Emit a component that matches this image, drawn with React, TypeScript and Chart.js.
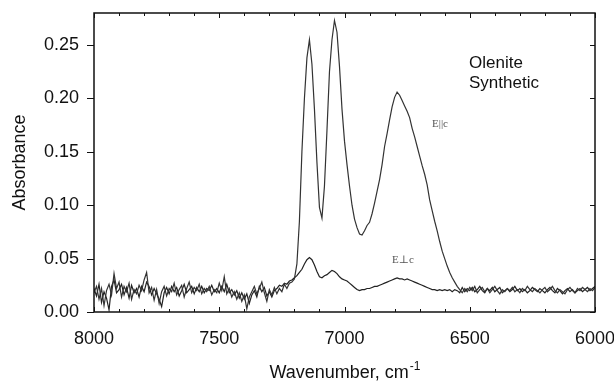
import React, { useEffect, useRef } from "react";
import { Chart, registerables } from "chart.js";

Chart.register(...registerables);

// Wavenumber grid, cm-1 (8000 -> 6000, every 10 cm-1)
const wavenumbers = [
  8000, 7990, 7980, 7970, 7960, 7950, 7940, 7930, 7920, 7910,
  7900, 7890, 7880, 7870, 7860, 7850, 7840, 7830, 7820, 7810,
  7800, 7790, 7780, 7770, 7760, 7750, 7740, 7730, 7720, 7710,
  7700, 7690, 7680, 7670, 7660, 7650, 7640, 7630, 7620, 7610,
  7600, 7590, 7580, 7570, 7560, 7550, 7540, 7530, 7520, 7510,
  7500, 7490, 7480, 7470, 7460, 7450, 7440, 7430, 7420, 7410,
  7400, 7390, 7380, 7370, 7360, 7350, 7340, 7330, 7320, 7310,
  7300, 7290, 7280, 7270, 7260, 7250, 7240, 7230, 7220, 7210,
  7200, 7190, 7180, 7170, 7160, 7150, 7140, 7130, 7120, 7110,
  7100, 7090, 7080, 7070, 7060, 7050, 7040, 7030, 7020, 7010,
  7000, 6990, 6980, 6970, 6960, 6950, 6940, 6930, 6920, 6910,
  6900, 6890, 6880, 6870, 6860, 6850, 6840, 6830, 6820, 6810,
  6800, 6790, 6780, 6770, 6760, 6750, 6740, 6730, 6720, 6710,
  6700, 6690, 6680, 6670, 6660, 6650, 6640, 6630, 6620, 6610,
  6600, 6590, 6580, 6570, 6560, 6550, 6540, 6530, 6520, 6510,
  6500, 6490, 6480, 6470, 6460, 6450, 6440, 6430, 6420, 6410,
  6400, 6390, 6380, 6370, 6360, 6350, 6340, 6330, 6320, 6310,
  6300, 6290, 6280, 6270, 6260, 6250, 6240, 6230, 6220, 6210,
  6200, 6190, 6180, 6170, 6160, 6150, 6140, 6130, 6120, 6110,
  6100, 6090, 6080, 6070, 6060, 6050, 6040, 6030, 6020, 6010,
  6000,
];

// Absorbance, E || c
const absParallel = [
  0.018, 0.024, 0.012, 0.022, 0.006, 0.020, 0.026, 0.016, 0.036, 0.022,
  0.028, 0.014, 0.024, 0.019, 0.027, 0.012, 0.021, 0.017, 0.025, 0.020,
  0.030, 0.037, 0.018, 0.023, 0.011, 0.021, 0.008, 0.019, 0.024, 0.015,
  0.022, 0.019, 0.027, 0.016, 0.021, 0.025, 0.014, 0.022, 0.028, 0.018,
  0.023, 0.020, 0.026, 0.017, 0.022, 0.019, 0.024, 0.016, 0.021, 0.018,
  0.027, 0.020, 0.033, 0.017, 0.022, 0.014, 0.019, 0.012, 0.018, 0.010,
  0.016, 0.003, 0.014, 0.019, 0.024, 0.017, 0.022, 0.028, 0.018, 0.010,
  0.021, 0.016, 0.023, 0.017, 0.022, 0.019, 0.026, 0.022, 0.027, 0.028,
  0.031, 0.045, 0.085, 0.150, 0.200, 0.238, 0.255, 0.232, 0.190, 0.140,
  0.098, 0.088, 0.118, 0.170, 0.225, 0.255, 0.273, 0.262, 0.230, 0.190,
  0.160, 0.138, 0.118, 0.100, 0.087, 0.079, 0.073, 0.072, 0.076, 0.081,
  0.084, 0.092, 0.102, 0.113, 0.124, 0.138, 0.155, 0.167, 0.180, 0.192,
  0.201, 0.206, 0.203, 0.198, 0.193, 0.188, 0.182, 0.172, 0.164, 0.155,
  0.146, 0.137, 0.129, 0.119, 0.105, 0.095, 0.085, 0.076, 0.066, 0.057,
  0.050, 0.043, 0.037, 0.032, 0.028, 0.024, 0.021, 0.018, 0.022, 0.019,
  0.023, 0.020, 0.024, 0.018, 0.021, 0.023, 0.019, 0.022, 0.018, 0.021,
  0.024, 0.020, 0.017, 0.021, 0.019, 0.022, 0.020, 0.023, 0.019, 0.021,
  0.018, 0.022, 0.020, 0.024, 0.021, 0.019, 0.022, 0.020, 0.018, 0.021,
  0.023, 0.019, 0.021, 0.024, 0.020, 0.018, 0.021, 0.019, 0.017, 0.021,
  0.023, 0.020, 0.018, 0.022, 0.020, 0.023, 0.021, 0.019, 0.022, 0.020,
  0.023,
];

// Absorbance, E ⊥ c
const absPerp = [
  0.022, 0.015, 0.026, 0.009, 0.019, 0.013, 0.002, 0.024, 0.030, 0.018,
  0.021, 0.026, 0.016, 0.023, 0.013, 0.025, 0.018, 0.022, 0.014, 0.024,
  0.019, 0.028, 0.024, 0.016, 0.022, 0.017, 0.012, 0.005, 0.018, 0.023,
  0.017, 0.024, 0.019, 0.023, 0.015, 0.020, 0.026, 0.018, 0.021, 0.024,
  0.017, 0.023, 0.019, 0.024, 0.018, 0.022, 0.020, 0.025, 0.019, 0.022,
  0.018, 0.024, 0.019, 0.026, 0.018, 0.021, 0.016, 0.020, 0.013, 0.018,
  0.012, 0.017, 0.008, 0.016, 0.020, 0.014, 0.024, 0.019, 0.023, 0.015,
  0.019, 0.014, 0.020, 0.022, 0.025, 0.024, 0.027, 0.026, 0.029, 0.030,
  0.032, 0.034, 0.037, 0.040, 0.045, 0.049, 0.051, 0.049, 0.044, 0.038,
  0.033, 0.032, 0.034, 0.035, 0.037, 0.039, 0.038, 0.036, 0.033, 0.031,
  0.030, 0.029, 0.027, 0.025, 0.023, 0.021, 0.020, 0.021, 0.021, 0.022,
  0.022, 0.023, 0.024, 0.024, 0.025, 0.026, 0.027, 0.028, 0.029, 0.030,
  0.031, 0.032, 0.031, 0.031, 0.030, 0.031, 0.030, 0.029, 0.028, 0.027,
  0.026, 0.025, 0.024, 0.023, 0.022, 0.021, 0.021, 0.020, 0.021, 0.020,
  0.021, 0.020, 0.021, 0.019, 0.021, 0.020, 0.018, 0.023, 0.019, 0.022,
  0.020, 0.023, 0.019, 0.021, 0.024, 0.020, 0.018, 0.022, 0.020, 0.023,
  0.019, 0.021, 0.023, 0.018, 0.020, 0.022, 0.019, 0.021, 0.024, 0.020,
  0.022, 0.019, 0.021, 0.018, 0.020, 0.023, 0.021, 0.019, 0.022, 0.020,
  0.018, 0.021, 0.023, 0.020, 0.018, 0.022, 0.020, 0.017, 0.020, 0.022,
  0.019, 0.021, 0.018, 0.020, 0.022, 0.019, 0.021, 0.023, 0.020, 0.022,
  0.024,
];

const xTickValues = [8000, 7500, 7000, 6500, 6000];
const xMinorTickValues = [
  7900, 7800, 7700, 7600, 7400, 7300, 7200, 7100, 6900, 6800, 6700, 6600,
  6400, 6300, 6200, 6100,
];
const yTickValues = [0, 0.05, 0.1, 0.15, 0.2, 0.25];

const xTitle = "Wavenumber, cm";
const xTitleSup = "-1";
const yTitle = "Absorbance";
const sampleLines = ["Olenite", "Synthetic"];
const labelParallel = "E||c";
const labelPerp = "E\u22A5c";

const FONT = "'Liberation Sans', Arial, sans-serif";
const SERIF = "'Liberation Serif', 'DejaVu Serif', serif";

const decorPlugin = {
  id: "decor",
  afterDraw(chart: any) {
    const { ctx, chartArea: a, scales } = chart;
    const x = scales.x;
    const y = scales.y;
    ctx.save();
    // frame
    ctx.strokeStyle = "#111";
    ctx.lineWidth = 1.5;
    ctx.strokeRect(a.left, a.top, a.right - a.left, a.bottom - a.top);
    ctx.lineWidth = 1;
    ctx.beginPath();
    const allX = [...xTickValues.map((v) => [v, 5]), ...xMinorTickValues.map((v) => [v, 3])];
    for (const [v, len] of allX) {
      const px = Math.round(x.getPixelForValue(v)) + 0.5;
      ctx.moveTo(px, a.bottom);
      ctx.lineTo(px, a.bottom - len);
      ctx.moveTo(px, a.top);
      ctx.lineTo(px, a.top + len);
    }
    for (const v of yTickValues) {
      const py = Math.round(y.getPixelForValue(v)) + 0.5;
      ctx.moveTo(a.left, py);
      ctx.lineTo(a.left - 7, py);
      ctx.moveTo(a.right, py);
      ctx.lineTo(a.right - 5, py);
    }
    ctx.stroke();

    // axis titles
    ctx.fillStyle = "#111";
    ctx.textBaseline = "alphabetic";
    ctx.font = `18px ${FONT}`;
    const mainW = ctx.measureText(xTitle).width;
    ctx.font = `12px ${FONT}`;
    const supW = ctx.measureText(xTitleSup).width;
    const cx = (a.left + a.right) / 2;
    const startX = cx - (mainW + supW) / 2;
    ctx.textAlign = "left";
    ctx.font = `18px ${FONT}`;
    ctx.fillText(xTitle, startX, 378);
    ctx.font = `12px ${FONT}`;
    ctx.fillText(xTitleSup, startX + mainW + 1, 370);

    ctx.save();
    ctx.translate(25, (a.top + a.bottom) / 2);
    ctx.rotate(-Math.PI / 2);
    ctx.textAlign = "center";
    ctx.font = `18px ${FONT}`;
    ctx.fillText(yTitle, 0, 0);
    ctx.restore();

    // sample annotation
    ctx.font = `17px ${FONT}`;
    ctx.textAlign = "left";
    ctx.fillText(sampleLines[0], 469, 68);
    ctx.fillText(sampleLines[1], 469, 88);

    // curve labels
    ctx.fillStyle = "#555";
    ctx.font = `11px ${SERIF}`;
    ctx.fillText(labelParallel, 432, 127);
    ctx.fillText(labelPerp, 392, 263);
    ctx.restore();
  },
};

export default function App() {
  const ref = useRef<HTMLCanvasElement | null>(null);

  useEffect(() => {
    document.body.style.margin = "0";
    const canvas = ref.current;
    if (!canvas) return;
    const toPoints = (ys: number[]) => wavenumbers.map((w, i) => ({ x: w, y: ys[i] }));
    const chart = new Chart(canvas, {
      type: "line",
      data: {
        datasets: [
          {
            label: labelParallel,
            data: toPoints(absParallel),
            borderColor: "#333",
            borderWidth: 1.2,
            pointRadius: 0,
            tension: 0,
            fill: false,
          },
          {
            label: labelPerp,
            data: toPoints(absPerp),
            borderColor: "#222",
            borderWidth: 1.2,
            pointRadius: 0,
            tension: 0,
            fill: false,
          },
        ],
      },
      options: {
        animation: false,
        responsive: false,
        devicePixelRatio: 1,
        layout: { padding: { left: 0, right: 19, top: 13, bottom: 0 } },
        plugins: {
          legend: { display: false },
          tooltip: { enabled: false },
          title: { display: false },
        },
        scales: {
          x: {
            type: "linear",
            reverse: true,
            min: 6000,
            max: 8000,
            grid: { display: false, drawTicks: false },
            border: { display: false },
            afterFit: (s: any) => {
              s.height = 73;
              s.paddingLeft = 0;
              s.paddingRight = 0;
            },
            afterBuildTicks: (s: any) => {
              s.ticks = xTickValues.map((v) => ({ value: v }));
            },
            ticks: {
              padding: 16,
              color: "#111",
              font: { size: 18, family: FONT },
              maxRotation: 0,
              autoSkip: false,
              callback: (v: any) => String(v),
            },
          },
          y: {
            type: "linear",
            min: 0,
            max: 0.28,
            grid: { display: false, drawTicks: false },
            border: { display: false },
            afterFit: (s: any) => {
              s.width = 94;
              s.paddingTop = 0;
              s.paddingBottom = 0;
            },
            afterBuildTicks: (s: any) => {
              s.ticks = yTickValues.map((v) => ({ value: v }));
            },
            ticks: {
              padding: 15,
              color: "#111",
              font: { size: 18, family: FONT },
              autoSkip: false,
              callback: (v: any) => Number(v).toFixed(2),
            },
          },
        },
      },
      plugins: [decorPlugin],
    });
    return () => chart.destroy();
  }, []);

  return (
    <div style={{ width: 614, height: 385, background: "#fff" }}>
      <canvas ref={ref} width={614} height={385} />
    </div>
  );
}
